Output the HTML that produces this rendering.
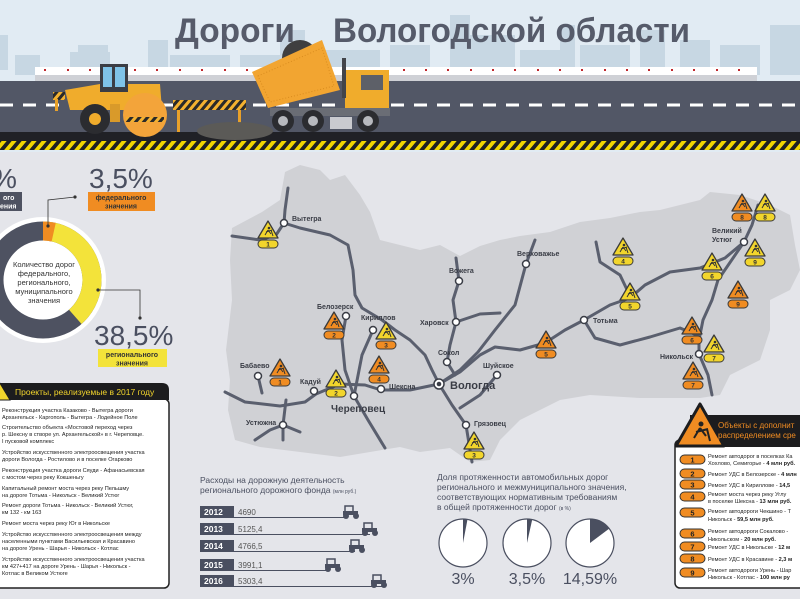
<!DOCTYPE html>
<html><head><meta charset="utf-8"><style>
html,body{margin:0;padding:0;width:800px;height:599px;overflow:hidden;background:#e4e5ea;font-family:"Liberation Sans","DejaVu Sans",sans-serif}
svg{display:block}
</style></head><body>
<svg width="800" height="599" viewBox="0 0 800 599" xmlns="http://www.w3.org/2000/svg" font-family="Liberation Sans, DejaVu Sans, sans-serif">
<defs>
<g id="tY"><path d="M0,-10 L10,7 L-10,7 Z" fill="#f2d52c" stroke="#3a3a3a" stroke-width="1.3" stroke-linejoin="round"/><circle cx="1" cy="-3" r="1.3" fill="#333"/><path d="M0,-1 L-3,4 M0,-1 L3,3 M-2,1 L4,-1 M3,-1 L5,5" stroke="#333" stroke-width="1"/></g>
<g id="tO"><path d="M0,-10 L10,7 L-10,7 Z" fill="#f08c22" stroke="#3a3a3a" stroke-width="1.3" stroke-linejoin="round"/><circle cx="1" cy="-3" r="1.3" fill="#333"/><path d="M0,-1 L-3,4 M0,-1 L3,3 M-2,1 L4,-1 M3,-1 L5,5" stroke="#333" stroke-width="1"/></g>
<rect id="pY" x="-10" y="9" width="20" height="8" rx="4" fill="#f2d52c" stroke="#3a3a3a" stroke-width="1"/>
<rect id="pO" x="-10" y="9" width="20" height="8" rx="4" fill="#f08c22" stroke="#3a3a3a" stroke-width="1"/>
<g id="trac"><rect x="2" y="0" width="8" height="6" fill="none" stroke="#4a4f60" stroke-width="1.5"/><rect x="0" y="5" width="15" height="4" fill="#4a4f60"/><circle cx="3" cy="10" r="3" fill="#4a4f60"/><circle cx="13" cy="10" r="3" fill="#4a4f60"/></g>
<pattern id="stripes" width="10" height="10" patternUnits="userSpaceOnUse" patternTransform="skewX(-40)"><rect width="10" height="10" fill="#1e1f24"/><rect width="5" height="10" fill="#f2d500"/></pattern>
<pattern id="stripes2" width="8" height="8" patternUnits="userSpaceOnUse" patternTransform="skewX(-40)"><rect width="8" height="8" fill="#2a2a2a"/><rect width="4" height="8" fill="#f3b130"/></pattern>
</defs>

<!-- header -->
<rect x="0" y="0" width="800" height="152" fill="#e1ebf3"/>
<g fill="#c7d7e3">
<rect x="0" y="35" width="8" height="35"/><rect x="15" y="55" width="25" height="20"/><rect x="70" y="52" width="40" height="20"/>
<rect x="78" y="45" width="30" height="10"/><rect x="148" y="40" width="20" height="35"/><rect x="170" y="55" width="60" height="20"/>
<rect x="240" y="55" width="40" height="20"/><rect x="280" y="30" width="25" height="45"/><rect x="320" y="50" width="60" height="25"/>
<rect x="390" y="45" width="40" height="30"/><rect x="450" y="15" width="20" height="60"/><rect x="470" y="35" width="45" height="40"/>
<rect x="520" y="50" width="40" height="25"/><rect x="560" y="25" width="15" height="50"/><rect x="580" y="45" width="50" height="30"/>
<rect x="640" y="30" width="25" height="45"/><rect x="680" y="40" width="30" height="35"/><rect x="720" y="45" width="40" height="30"/>
<rect x="770" y="25" width="30" height="50"/>
</g>
<text x="175" y="42" font-size="34" font-weight="bold" fill="#565b6a" textLength="120" lengthAdjust="spacingAndGlyphs">Дороги</text>
<text x="333" y="42" font-size="34" font-weight="bold" fill="#565b6a" textLength="357" lengthAdjust="spacingAndGlyphs">Вологодской области</text>
<rect x="35" y="67" width="722" height="8" fill="#fff"/>
<rect x="35" y="75" width="722" height="8" fill="#cfd1d6"/>
<g fill="#c0272d">
<rect x="44" y="69" width="2" height="2"/><rect x="67" y="69" width="2" height="2"/><rect x="89" y="69" width="2" height="2"/><rect x="112" y="69" width="2" height="2"/><rect x="134" y="69" width="2" height="2"/><rect x="156" y="69" width="2" height="2"/><rect x="179" y="69" width="2" height="2"/><rect x="201" y="69" width="2" height="2"/><rect x="224" y="69" width="2" height="2"/><rect x="246" y="69" width="2" height="2"/><rect x="403" y="69" width="2" height="2"/><rect x="425" y="69" width="2" height="2"/><rect x="447" y="69" width="2" height="2"/><rect x="470" y="69" width="2" height="2"/><rect x="492" y="69" width="2" height="2"/><rect x="514" y="69" width="2" height="2"/><rect x="537" y="69" width="2" height="2"/><rect x="559" y="69" width="2" height="2"/><rect x="581" y="69" width="2" height="2"/><rect x="604" y="69" width="2" height="2"/><rect x="626" y="69" width="2" height="2"/><rect x="648" y="69" width="2" height="2"/><rect x="671" y="69" width="2" height="2"/><rect x="693" y="69" width="2" height="2"/><rect x="716" y="69" width="2" height="2"/><rect x="738" y="69" width="2" height="2"/>
</g>
<rect x="0" y="81" width="800" height="52" fill="#525766"/>
<line x1="0" y1="105" x2="800" y2="105" stroke="#fff" stroke-width="3" stroke-dasharray="13,10"/>
<rect x="0" y="132" width="800" height="9" fill="#202126"/>
<rect x="0" y="141" width="800" height="9" fill="url(#stripes)"/>

<!-- roller -->
<rect x="53" y="92" width="12" height="8" fill="url(#stripes2)"/>
<rect x="55" y="99" width="3" height="12" fill="#e9a12a"/>
<path d="M65,90 L100,84 L160,84 L162,110 L70,110 Z" fill="#f0ac2c"/>
<rect x="100" y="64" width="28" height="28" fill="#3b3d44"/>
<rect x="103" y="67" width="9" height="20" fill="#7fc3e8"/><rect x="115" y="67" width="10" height="20" fill="#7fc3e8"/>
<circle cx="95" cy="119" r="15" fill="#2b2c30"/><circle cx="95" cy="119" r="6" fill="#f0ac2c"/>
<circle cx="145" cy="115" r="22" fill="#f3a43a"/>
<rect x="126" y="117" width="38" height="5" fill="url(#stripes2)"/>
<rect x="110" y="104" width="10" height="18" fill="#d99a2a"/>
<rect x="173" y="100" width="73" height="10" fill="url(#stripes2)"/>
<rect x="177" y="110" width="3" height="22" fill="#e9a12a"/><rect x="238" y="110" width="3" height="22" fill="#e9a12a"/>
<!-- dump truck -->
<ellipse cx="235" cy="131" rx="38" ry="9" fill="#5b5a57"/>
<circle cx="300" cy="58" r="18" fill="#3f3f40"/>
<path d="M252,72 L322,40 L340,90 L268,108 Z" fill="#f2a531"/>
<path d="M258,76 L322,48 L334,86 L270,102 Z" fill="none" stroke="#d98c1f" stroke-width="1" stroke-dasharray="1,2"/>
<rect x="345" y="70" width="44" height="46" fill="#f0ac2c"/>
<rect x="361" y="75" width="22" height="15" fill="#5d6068"/>
<rect x="342" y="58" width="4" height="40" fill="#42444a"/>
<rect x="270" y="108" width="120" height="8" fill="#6a6d75"/>
<rect x="330" y="117" width="22" height="12" fill="#c9cacf"/>
<circle cx="283" cy="121" r="11" fill="#2b2c30"/><circle cx="283" cy="121" r="5" fill="#b7b9be"/>
<circle cx="313" cy="121" r="11" fill="#2b2c30"/><circle cx="313" cy="121" r="5" fill="#b7b9be"/>
<circle cx="368" cy="121" r="11" fill="#2b2c30"/><circle cx="368" cy="121" r="5" fill="#b7b9be"/>

<!-- map -->
<polygon points="232,228 262,212 280,200 285,172 300,165 320,170 330,180 345,175 360,195 370,212 380,240 400,245 420,250 440,245 460,256 480,246 500,240 520,236 550,232 580,222 610,218 640,212 660,210 700,200 710,192 740,195 770,205 790,215 795,245 800,270 790,290 770,300 770,330 760,360 730,375 720,395 700,398 640,398 590,395 560,400 520,420 500,440 490,460 470,462 450,448 420,452 400,447 370,452 340,457 300,452 260,447 235,440 228,410 230,380 226,350 232,300 230,260" fill="#d0d1d5"/>
<g fill="none" stroke="#5a5f6e" stroke-width="3" stroke-linecap="round" stroke-linejoin="round">
<polyline points="288,188 285,210 284,223 300,228 330,235 348,245 353,270 355,295 362,308 382,320 395,330 410,340 425,355 432,370 439,384 452,405 466,425 472,462"/>
<polyline points="232,236 260,240 276,235 284,223"/>
<polyline points="225,392 245,402 280,406 305,402 316,394 340,384 365,385 381,390 410,390 439,384 460,372 480,355 495,347 520,350 545,343 565,330 584,320 610,305 630,298 645,285 670,272 700,268 725,258 744,242 752,225 758,205"/>
<polyline points="439,384 460,370 478,352 495,330 515,305 526,264 535,240"/>
<polyline points="584,320 595,338 620,345 650,337 680,328 699,336 699,354 708,375 712,395"/>
<polyline points="699,340 703,320 712,300 718,280 744,242"/>
<polyline points="596,242 600,262 620,275 630,296"/>
<polyline points="456,258 459,281 453,300 456,322 450,345 447,362 455,375"/>
<polyline points="456,322 480,314 500,313"/>
<polyline points="497,375 480,395 460,408"/>
<polyline points="373,330 362,355 354,396"/>
<polyline points="346,316 342,340 345,370 354,396 368,420 385,448"/>
<polyline points="258,376 262,393"/>
<polyline points="283,440 283,425 286,400"/>
<polyline points="255,440 270,430 283,425 300,432"/>
</g>
<g fill="#fff" stroke="#3a3d46" stroke-width="1.5">
<circle cx="284" cy="223" r="3.5"/><circle cx="346" cy="316" r="3.5"/><circle cx="373" cy="330" r="3.5"/><circle cx="459" cy="281" r="3.5"/><circle cx="456" cy="322" r="3.5"/><circle cx="447" cy="362" r="3.5"/><circle cx="497" cy="375" r="3.5"/><circle cx="466" cy="425" r="3.5"/><circle cx="381" cy="389" r="3.5"/><circle cx="314" cy="391" r="3.5"/><circle cx="354" cy="396" r="3.5"/><circle cx="258" cy="376" r="3.5"/><circle cx="283" cy="425" r="3.5"/><circle cx="526" cy="264" r="3.5"/><circle cx="584" cy="320" r="3.5"/><circle cx="744" cy="242" r="3.5"/><circle cx="699" cy="354" r="3.5"/>
<circle cx="439" cy="384" r="5"/>
</g>
<circle cx="439" cy="384" r="2.3" fill="#3a3d46"/>
<g font-size="7" font-weight="bold" fill="#3a3d46">
<text x="292" y="221">Вытегра</text><text x="317" y="309">Белозерск</text><text x="361" y="320">Кириллов</text><text x="449" y="273">Вожега</text><text x="420" y="325">Харовск</text><text x="438" y="355">Сокол</text><text x="483" y="368">Шуйское</text><text x="474" y="426">Грязовец</text><text x="389" y="389">Шексна</text><text x="300" y="384">Кадуй</text><text x="240" y="368">Бабаево</text><text x="246" y="425">Устюжна</text><text x="517" y="256">Верховажье</text><text x="593" y="323">Тотьма</text><text x="712" y="233">Великий</text><text x="712" y="242">Устюг</text><text x="660" y="359">Никольск</text>
</g>
<text x="450" y="389" font-size="11" font-weight="bold" fill="#3a3d46">Вологда</text>
<text x="331" y="412" font-size="10" font-weight="bold" fill="#3a3d46">Череповец</text>
<g font-size="6.5" font-weight="bold" fill="#333" text-anchor="middle">
<g transform="translate(268,231)"><use href="#tY"/><use href="#pY"/><text y="15.5">1</text></g>
<g transform="translate(334,322)"><use href="#tO"/><use href="#pO"/><text y="15.5">2</text></g>
<g transform="translate(386,332)"><use href="#tY"/><use href="#pO"/><text y="15.5">3</text></g>
<g transform="translate(379,366)"><use href="#tO"/><use href="#pO"/><text y="15.5">4</text></g>
<g transform="translate(280,369)"><use href="#tO"/><use href="#pO"/><text y="15.5">1</text></g>
<g transform="translate(336,380)"><use href="#tY"/><use href="#pY"/><text y="15.5">2</text></g>
<g transform="translate(474,442)"><use href="#tY"/><use href="#pY"/><text y="15.5">3</text></g>
<g transform="translate(623,248)"><use href="#tY"/><use href="#pY"/><text y="15.5">4</text></g>
<g transform="translate(630,293)"><use href="#tY"/><use href="#pY"/><text y="15.5">5</text></g>
<g transform="translate(546,341)"><use href="#tO"/><use href="#pO"/><text y="15.5">5</text></g>
<g transform="translate(742,204)"><use href="#tO"/><use href="#pO"/><text y="15.5">8</text></g>
<g transform="translate(765,204)"><use href="#tY"/><use href="#pY"/><text y="15.5">8</text></g>
<g transform="translate(755,249)"><use href="#tY"/><use href="#pY"/><text y="15.5">9</text></g>
<g transform="translate(712,263)"><use href="#tY"/><use href="#pY"/><text y="15.5">6</text></g>
<g transform="translate(738,291)"><use href="#tO"/><use href="#pO"/><text y="15.5">9</text></g>
<g transform="translate(692,327)"><use href="#tO"/><use href="#pO"/><text y="15.5">6</text></g>
<g transform="translate(714,345)"><use href="#tY"/><use href="#pY"/><text y="15.5">7</text></g>
<g transform="translate(693,372)"><use href="#tO"/><use href="#pO"/><text y="15.5">7</text></g>
</g>

<!-- donut -->
<circle cx="43" cy="280" r="63" fill="#fff"/>
<circle cx="43" cy="280" r="49" fill="none" stroke="#4e5261" stroke-width="19"/>
<circle cx="43" cy="280" r="49" fill="none" stroke="#f3e33a" stroke-width="19" stroke-dasharray="118.5 400" transform="rotate(-90 43 280)"/>
<circle cx="43" cy="280" r="49" fill="none" stroke="#f08c22" stroke-width="19" stroke-dasharray="10.8 400" transform="rotate(-90 43 280)"/>
<g font-size="7.5" fill="#333" text-anchor="middle">
<text x="44" y="267">Количество дорог</text><text x="44" y="276">федерального,</text><text x="44" y="285">регионального,</text><text x="44" y="294">муниципального</text><text x="44" y="303">значения</text>
</g>
<polyline points="48,226 48,200 75,197" fill="none" stroke="#333" stroke-width="0.8"/><circle cx="48" cy="226" r="1.6" fill="#333"/><circle cx="75" cy="197" r="1.6" fill="#333"/>
<polyline points="98,290 140,290 140,318" fill="none" stroke="#333" stroke-width="0.8"/><circle cx="98" cy="290" r="1.6" fill="#333"/><circle cx="140" cy="318" r="1.6" fill="#333"/>
<text x="89" y="188" font-size="28" fill="#4a4f60">3,5%</text>
<rect x="88" y="192" width="67" height="19" fill="#f08c22"/>
<text x="121" y="200" font-size="7" font-weight="bold" fill="#333" text-anchor="middle">федерального</text>
<text x="121" y="208.5" font-size="7" font-weight="bold" fill="#333" text-anchor="middle">значения</text>
<text x="94" y="345" font-size="28" fill="#4a4f60">38,5%</text>
<rect x="98" y="349" width="69" height="18" fill="#f3e33a"/>
<text x="132" y="357" font-size="7" font-weight="bold" fill="#333" text-anchor="middle">регионального</text>
<text x="132" y="365.5" font-size="7" font-weight="bold" fill="#333" text-anchor="middle">значения</text>
<text x="-8" y="188" font-size="28" fill="#4a4f60">%</text>
<rect x="0" y="192" width="22" height="19" fill="#4e5261"/>
<text x="3" y="200" font-size="7" font-weight="bold" fill="#fff">ого</text><text x="0" y="208.5" font-size="7" font-weight="bold" fill="#fff">ения</text>

<!-- projects box -->
<rect x="-5" y="399" width="174" height="189" rx="5" fill="#fff" stroke="#222" stroke-width="1.5"/>
<path d="M-5,383 L162,383 Q169,383 169,390 L169,400 L-5,400 Z" fill="#1c1c1e"/>
<path d="M-2,380 L10,400 L-2,400 Z" fill="#f2d52c" stroke="#1c1c1e"/>
<text x="15" y="395" font-size="8.5" fill="#f2d52c">Проекты, реализуемые в 2017 году</text>
<g font-size="5.6" fill="#222">
<text x="2" y="412">Реконструкция участка Казаково - Вытегра дороги</text><text x="2" y="419">Архангельск - Каргополь - Вытегра - Лодейное Поле</text>
<text x="2" y="429">Строительство объекта «Мостовой переход через</text><text x="2" y="436">р. Шексну в створе ул. Архангельской» в г. Череповце.</text><text x="2" y="443">I пусковой комплекс</text>
<text x="2" y="454">Устройство искусственного электроосвещения участка</text><text x="2" y="461">дороги Вологда - Ростилово и в поселке Огарково</text>
<text x="2" y="472">Реконструкция участка дороги Сяуди - Афанасьевская</text><text x="2" y="479">с мостом через реку Кокшеньгу</text>
<text x="2" y="490">Капитальный ремонт моста через реку Пельшму</text><text x="2" y="497">на дороге Тотьма - Никольск - Великий Устюг</text>
<text x="2" y="507">Ремонт дороги Тотьма - Никольск - Великий Устюг,</text><text x="2" y="514">км 132 - км 163</text>
<text x="2" y="525">Ремонт моста через реку Юг в Никольске</text>
<text x="2" y="536">Устройство искусственного электроосвещения между</text><text x="2" y="543">населенными пунктами Васильевская и Красавино</text><text x="2" y="550">на дороге Урень - Шарья - Никольск - Котлас</text>
<text x="2" y="561">Устройство искусственного электроосвещения участка</text><text x="2" y="568">км 427+417 на дороге Урень - Шарья - Никольск -</text><text x="2" y="575">Котлас в Великом Устюге</text>
</g>

<!-- expenses -->
<text x="200" y="483" font-size="8.5" fill="#4a4f60">Расходы на дорожную деятельность</text>
<text x="200" y="493" font-size="8.5" fill="#4a4f60">регионального дорожного фонда <tspan font-size="5">(млн руб.)</tspan></text>
<g stroke="#4a4f60" stroke-width="1">
<line x1="200" y1="517.5" x2="347" y2="517.5"/><line x1="200" y1="534.5" x2="370" y2="534.5"/><line x1="200" y1="551.5" x2="355" y2="551.5"/><line x1="200" y1="570.5" x2="330" y2="570.5"/><line x1="200" y1="586.5" x2="385" y2="586.5"/>
</g>
<g fill="#4a4f60"><rect x="200" y="506" width="34" height="11"/><rect x="200" y="523" width="34" height="11"/><rect x="200" y="540" width="34" height="11"/><rect x="200" y="559" width="34" height="11"/><rect x="200" y="575" width="34" height="11"/></g>
<g font-size="8.5" font-weight="bold" fill="#fff"><text x="204" y="515">2012</text><text x="204" y="532">2013</text><text x="204" y="549">2014</text><text x="204" y="568">2015</text><text x="204" y="584">2016</text></g>
<g font-size="8" fill="#555"><text x="238" y="515">4690</text><text x="238" y="532">5125,4</text><text x="238" y="549">4766,5</text><text x="238" y="568">3991,1</text><text x="238" y="584">5303,4</text></g>
<use href="#trac" x="343" y="506"/><use href="#trac" x="362" y="523"/><use href="#trac" x="349" y="540"/><use href="#trac" x="325" y="559"/><use href="#trac" x="371" y="575"/>

<!-- pies -->
<g font-size="8.5" fill="#4a4f60">
<text x="437" y="480">Доля протяженности автомобильных дорог</text><text x="437" y="490">регионального и межмуниципального значения,</text><text x="437" y="500">соответствующих нормативным требованиям</text><text x="437" y="510">в общей протяженности дорог <tspan font-size="5">(в %)</tspan></text>
</g>
<g stroke="#4a4f60" stroke-width="1.2" fill="#fff"><circle cx="463" cy="543" r="24"/><circle cx="527" cy="543" r="24"/><circle cx="590" cy="543" r="24"/></g>
<path d="M463,543 L463,519 A24,24 0 0 1 467.5,519.4 Z" fill="#4a4f60"/>
<path d="M527,543 L527,519 A24,24 0 0 1 532.2,519.6 Z" fill="#4a4f60"/>
<path d="M590,543 L590,519 A24,24 0 0 1 609.2,528.6 Z" fill="#4a4f60"/>
<g font-size="16" fill="#4a4f60" text-anchor="middle"><text x="463" y="584">3%</text><text x="527" y="584">3,5%</text><text x="590" y="584">14,59%</text></g>

<!-- right box -->
<rect x="675" y="440" width="135" height="148" rx="5" fill="#fff" stroke="#222" stroke-width="1.5"/>
<rect x="690" y="415" width="115" height="32" fill="#1c1c1e"/>
<path d="M700,404 L724,446 L676,446 Z" fill="#f08c22" stroke="#1c1c1e" stroke-width="3" stroke-linejoin="round"/>
<circle cx="701" cy="424" r="2.5" fill="#222"/><path d="M700,428 L694,438 M700,428 L706,436 M696,432 L708,429 M707,429 L710,441" stroke="#222" stroke-width="2"/>
<text x="718" y="428" font-size="8" fill="#f08c22">Объекты с дополнит</text>
<text x="718" y="438" font-size="8" fill="#f08c22">распределением сре</text>
<g fill="#f08c22" stroke="#333" stroke-width="1">
<rect x="680" y="455" width="25" height="9" rx="4.5"/><rect x="680" y="469" width="25" height="9" rx="4.5"/><rect x="680" y="480" width="25" height="9" rx="4.5"/><rect x="680" y="492" width="25" height="9" rx="4.5"/><rect x="680" y="508" width="25" height="9" rx="4.5"/><rect x="680" y="529" width="25" height="9" rx="4.5"/><rect x="680" y="542" width="25" height="9" rx="4.5"/><rect x="680" y="554" width="25" height="9" rx="4.5"/><rect x="680" y="568" width="25" height="9" rx="4.5"/>
</g>
<g font-size="7.5" font-weight="bold" fill="#222" text-anchor="middle"><text x="692.5" y="462.5">1</text><text x="692.5" y="476.5">2</text><text x="692.5" y="487.5">3</text><text x="692.5" y="499.5">4</text><text x="692.5" y="515.5">5</text><text x="692.5" y="536.5">6</text><text x="692.5" y="549.5">7</text><text x="692.5" y="561.5">8</text><text x="692.5" y="575.5">9</text></g>
<g font-size="5.6" fill="#222">
<text x="708" y="458">Ремонт автодорог в поселках Ка</text><text x="708" y="465">Хохлово, Семигорье - <tspan font-weight="bold">4 млн руб.</tspan></text>
<text x="708" y="476">Ремонт УДС в Белозерске - <tspan font-weight="bold">4 млн</tspan></text>
<text x="708" y="487">Ремонт УДС в Кириллове - <tspan font-weight="bold">14,5</tspan></text>
<text x="708" y="496">Ремонт моста через реку Углу</text><text x="708" y="503">в поселке Шексна - <tspan font-weight="bold">13 млн руб.</tspan></text>
<text x="708" y="513">Ремонт автодороги Чекшино - Т</text><text x="708" y="521">Никольск - <tspan font-weight="bold">59,5 млн руб.</tspan></text>
<text x="708" y="533">Ремонт автодороги Сокалово -</text><text x="708" y="541">Никольском - <tspan font-weight="bold">20 млн руб.</tspan></text>
<text x="708" y="549">Ремонт УДС в Никольске - <tspan font-weight="bold">12 м</tspan></text>
<text x="708" y="561">Ремонт УДС в Красавине - <tspan font-weight="bold">2,3 м</tspan></text>
<text x="708" y="572">Ремонт автодороги Урень - Шар</text><text x="708" y="579">Никольск - Котлас - <tspan font-weight="bold">100 млн ру</tspan></text>
</g>
</svg>
</body></html>
